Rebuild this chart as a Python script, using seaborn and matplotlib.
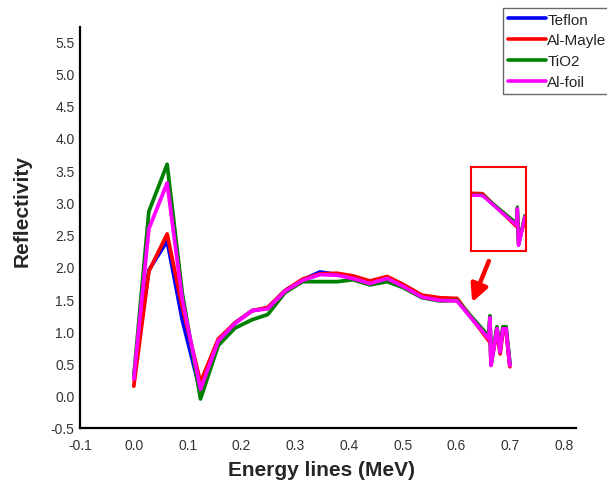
import matplotlib
matplotlib.use("Agg")
import matplotlib.pyplot as plt
import numpy as np
import pandas as pd
import seaborn as sns

# Energy lines (MeV)
energy = [0.0, 0.028, 0.062, 0.090, 0.124, 0.157, 0.188, 0.220, 0.249, 0.281,
          0.314, 0.346, 0.378, 0.407, 0.439, 0.471, 0.500, 0.536, 0.569, 0.601,
          0.660, 0.662, 0.664, 0.675, 0.681, 0.686, 0.692, 0.699]

teflon = [0.30, 1.95, 2.40, 1.18, 0.05, 0.85, 1.13, 1.32, 1.36, 1.63,
          1.80, 1.92, 1.88, 1.83, 1.74, 1.82, 1.70, 1.53, 1.49, 1.48,
          0.88, 1.20, 0.48, 1.03, 0.70, 1.03, 1.03, 0.48]
al_mayle = [0.15, 1.93, 2.51, 1.38, 0.21, 0.88, 1.13, 1.32, 1.37, 1.63,
            1.81, 1.89, 1.90, 1.86, 1.78, 1.85, 1.73, 1.56, 1.52, 1.51,
            0.85, 1.18, 0.50, 1.00, 0.65, 1.00, 1.00, 0.45]
tio2 = [0.30, 2.86, 3.59, 1.60, -0.05, 0.78, 1.05, 1.18, 1.26, 1.60,
        1.77, 1.77, 1.77, 1.80, 1.72, 1.77, 1.68, 1.52, 1.47, 1.48,
        0.92, 1.24, 0.50, 1.07, 0.72, 1.07, 1.07, 0.52]
al_foil = [0.26, 2.59, 3.30, 1.50, 0.10, 0.85, 1.12, 1.32, 1.35, 1.62,
           1.79, 1.88, 1.87, 1.82, 1.74, 1.82, 1.70, 1.53, 1.48, 1.47,
           0.88, 1.21, 0.47, 1.04, 0.68, 1.04, 1.04, 0.47]

materials = ["Teflon", "Al-Mayle", "TiO2", "Al-foil"]
colors = ["#0000ff", "#ff0000", "#008000", "#ff00ff"]
series = [teflon, al_mayle, tio2, al_foil]

y_ticks = [-0.5, 0.0, 0.5, 1.0, 1.5, 2.0, 2.5, 3.0, 3.5, 4.0, 4.5, 5.0, 5.5]
x_ticks = [-0.1, 0.0, 0.1, 0.2, 0.3, 0.4, 0.5, 0.6, 0.7, 0.8]

df = pd.concat(
    [pd.DataFrame({"Energy": energy, "Reflectivity": vals, "Material": name})
     for name, vals in zip(materials, series)],
    ignore_index=True,
)
palette = dict(zip(materials, colors))

sns.set_style("white")
plt.rcParams["font.family"] = ["Liberation Sans", "DejaVu Sans"]

fig = plt.figure(figsize=(6.07, 4.89), dpi=100)
ax = fig.add_axes([80 / 607, 1 - 429 / 489, 496 / 607, 401 / 489])

sns.lineplot(data=df, x="Energy", y="Reflectivity", hue="Material",
             hue_order=materials, palette=palette, estimator=None, sort=False,
             linewidth=2.7, ax=ax, legend=False, zorder=3)

ax.set_xlim(-0.1, 0.822)
ax.set_ylim(-0.5, 5.72)
ax.set_xticks(x_ticks)
ax.set_yticks(y_ticks)
ax.set_xticklabels([f"{t:.1f}" for t in x_ticks])
ax.set_yticklabels([f"{t:.1f}" for t in y_ticks])
ax.tick_params(axis="both", length=0, labelsize=10, labelcolor="#333333")
ax.tick_params(axis="x", pad=7)
ax.tick_params(axis="y", pad=4)

for side in ["top", "right"]:
    ax.spines[side].set_visible(False)
for side in ["left", "bottom"]:
    ax.spines[side].set_color("black")
    ax.spines[side].set_linewidth(1.6)

ax.set_xlabel("Energy lines (MeV)", fontsize=15, fontweight="bold", va="center")
ax.set_ylabel("Reflectivity", fontsize=15, fontweight="bold", va="center")
ax.xaxis.set_label_coords((321 - 80) / 496, -(471 - 429) / 401)
ax.yaxis.set_label_coords((22 - 80) / 496, (429 - 211) / 401)

# legend
handles = [plt.Line2D([], [], color=c, lw=2.6) for c in colors]
leg = fig.legend(handles, materials, loc="upper left",
                 bbox_to_anchor=(503 / 607, 1 - 9 / 489),
                 fontsize=11, frameon=True, fancybox=False,
                 handlelength=2.5, handletextpad=0.1, labelspacing=0.45,
                 borderpad=0.3, borderaxespad=0.0)
leg.get_frame().set_edgecolor("#444444")
leg.get_frame().set_linewidth(1.0)

# arrow pointing at the decaying tail
ax.annotate("", xy=(0.629, 1.45), xytext=(0.660, 2.09),
            arrowprops=dict(arrowstyle="-|>", color="#ff0000", lw=3.2,
                            mutation_scale=26, shrinkA=0, shrinkB=0),
            zorder=4)

# magnified view of the tail region
ins = fig.add_axes([471 / 607, 1 - 252 / 489, 55 / 607, 84 / 489])
sns.lineplot(data=df, x="Energy", y="Reflectivity", hue="Material",
             hue_order=materials, palette=palette, estimator=None, sort=False,
             linewidth=2.4, ax=ins, legend=False)
ins.set_xlim(0.581, 0.677)
ins.set_ylim(0.36, 2.04)
ins.set_xticks([])
ins.set_yticks([])
ins.set_xlabel("")
ins.set_ylabel("")
for s in ins.spines.values():
    s.set_visible(True)
    s.set_color("#ff0000")
    s.set_linewidth(1.5)

fig.savefig("out.png", dpi=100)
